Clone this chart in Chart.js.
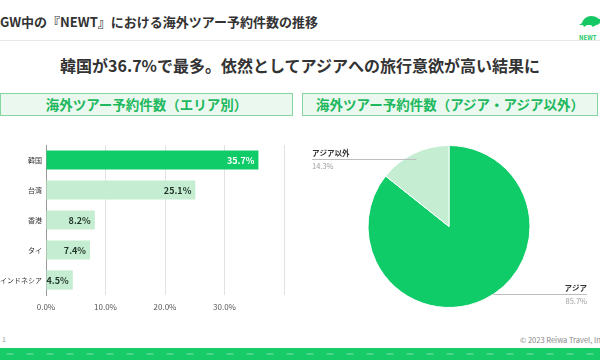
<!DOCTYPE html>
<html>
<head>
<meta charset="utf-8">
<script src="https://cdn.jsdelivr.net/npm/chart.js@4"></script>
<style>
  body { margin: 0; width: 600px; height: 360px; position: relative; overflow: hidden; background: #fff;
         font-family: "Noto Sans CJK JP", "Noto Sans", sans-serif; }
  .abs { position: absolute; }
  #title { left: 0; top: 13px; font-size: 13px; font-weight: bold; color: #333; line-height: 18px; white-space: nowrap; }
  #rule { left: 0; top: 40px; width: 600px; height: 1px; background: #e8e8e8; }
  #lead { left: 0; top: 55px; width: 600px; text-align: center; font-size: 16px; font-weight: bold; color: #333; line-height: 20px; }
  .head { top: 93px; height: 23px; box-sizing: border-box; background: #ebf8ef; border: 1px solid #86d6a1;
          color: #1eb85e; font-size: 13.5px; font-weight: bold; line-height: 21px; text-align: center; white-space: nowrap; }
  #headL { left: 0; width: 293px; }
  #headR { left: 302px; width: 296px; }
  #barBox { left: 0; top: 120px; }
  #pieBox { left: 301px; top: 120px; }
  #logo { left: 579px; top: 9px; width: 30px; }
  #logo span { display: block; font-size: 6px; font-weight: bold; color: #16c864; line-height: 7px; margin-top: 1px; }
  #page { left: 2px; top: 334px; font-size: 7px; color: #999; }
  #copy { left: 520px; top: 334px; font-size: 7.5px; color: #888; white-space: nowrap; }
  #band { left: 0; top: 348px; width: 600px; height: 12px; background-color: #17cc68;
          background-image: radial-gradient(ellipse 4px 1.5px at 10px 6px, rgba(255,255,255,0.22) 85%, transparent 100%);
          background-size: 20px 12px; }
</style>
</head>
<body>
<div id="title" class="abs">GW中の『NEWT』における海外ツアー予約件数の推移</div>
<div id="logo" class="abs">
  <svg width="22" height="13" viewBox="0 0 22 13"><path d="M0 10 L3 8 C4 4 8 1 12 1 C15 1 18 2 20 4 L22 4 L21 7 C21 9 19 10 17 10 L14 12 L12 10 L8 10 L5 12 L4 10 Z" fill="#16c864"/></svg>
  <span>NEWT</span>
</div>
<div id="rule" class="abs"></div>
<div id="lead" class="abs">韓国が36.7%で最多。依然としてアジアへの旅行意欲が高い結果に</div>
<div id="headL" class="abs head">海外ツアー予約件数（エリア別）</div>
<div id="headR" class="abs head">海外ツアー予約件数（アジア・アジア以外）</div>
<div id="barBox" class="abs"><canvas id="areaChart" width="300" height="200"></canvas></div>
<div id="pieBox" class="abs"><canvas id="regionChart" width="296" height="213"></canvas></div>
<div id="page" class="abs">1</div>
<div id="copy" class="abs">© 2023 Reiwa Travel, Inc.</div>
<div id="band" class="abs"></div>

<script>
const areaLabels = ['韓国', '台湾', '香港', 'タイ', 'インドネシア'];
const areaShares = [35.7, 25.1, 8.2, 7.4, 4.5];
const regionLabels = ['アジア', 'アジア以外'];
const regionShares = [85.7, 14.3];
const xTickMax = 40;

const jp = '"Noto Sans CJK JP", sans-serif';
const green = '#0fcb68';
const paleGreen = '#c5edd2';

// value text at the end of each bar
const barValueLabels = {
    id: 'barValueLabels',
    afterDatasetsDraw(chart) {
        const ctx = chart.ctx;
        const meta = chart.getDatasetMeta(0);
        ctx.save();
        ctx.font = 'bold 9px ' + jp;
        ctx.textAlign = 'right';
        ctx.textBaseline = 'middle';
        meta.data.forEach((bar, i) => {
            ctx.fillStyle = i === 0 ? '#ffffff' : '#1f3327';
            ctx.fillText(areaShares[i].toFixed(1) + '%', bar.x - 4, bar.y + 0.5);
        });
        ctx.restore();
    }
};

// leader lines with name + percent for the pie
const pieLeaderLabels = {
    id: 'pieLeaderLabels',
    afterDatasetsDraw(chart) {
        const ctx = chart.ctx;
        const meta = chart.getDatasetMeta(0);
        ctx.save();
        meta.data.forEach((arc, i) => {
            const mid = (arc.startAngle + arc.endAngle) / 2;
            const R = arc.outerRadius;
            let px = arc.x + Math.cos(mid) * R * 0.93;
            const py = arc.y + Math.sin(mid) * R * 0.93;
            const right = Math.cos(mid) > 0;
            if (arc.circumference > Math.PI) {
                const dx = Math.sqrt(Math.max(R * R - (py - arc.y) ** 2, 0));
                px = right ? arc.x + dx : arc.x - dx;
            }
            const ex = right ? chart.width - 10 : 11;
            ctx.strokeStyle = '#bdbdbd';
            ctx.lineWidth = 1;
            ctx.beginPath();
            ctx.moveTo(px, Math.round(py) + 0.5);
            ctx.lineTo(ex, Math.round(py) + 0.5);
            ctx.stroke();
            ctx.textAlign = right ? 'right' : 'left';
            ctx.textBaseline = 'alphabetic';
            ctx.font = 'bold 7.5px ' + jp;
            ctx.fillStyle = '#333';
            ctx.fillText(regionLabels[i], ex, Math.round(py) - 3);
            ctx.textBaseline = 'top';
            ctx.font = '7.5px ' + jp;
            ctx.fillStyle = '#a0a0a0';
            ctx.fillText(regionShares[i].toFixed(1) + '%', ex, Math.round(py) + 3);
        });
        ctx.restore();
    }
};

new Chart(document.getElementById('areaChart').getContext('2d'), {
    type: 'bar',
    data: {
        labels: areaLabels,
        datasets: [{
            data: areaShares,
            backgroundColor: areaShares.map((v, i) => i === 0 ? green : paleGreen),
            borderWidth: 0,
            barPercentage: 0.64,
            categoryPercentage: 1
        }]
    },
    options: {
        indexAxis: 'y',
        responsive: false,
        devicePixelRatio: 1,
        animation: false,
        layout: {padding: {top: 25, right: 16, left: 0, bottom: 0}},
        plugins: {legend: {display: false}, tooltip: {enabled: false}},
        scales: {
            x: {
                min: 0,
                max: xTickMax,
                ticks: {
                    stepSize: 10,
                    padding: 7,
                    color: '#555',
                    font: {size: 8, family: jp},
                    callback: v => v < xTickMax ? v.toFixed(1) + '%' : ''
                },
                grid: {color: '#e2e2e2', drawTicks: false},
                border: {display: false},
                afterFit: s => { s.height = 25; }
            },
            y: {
                ticks: {color: '#333', padding: 4, font: {size: 7, family: jp}},
                grid: {display: false, drawTicks: false},
                border: {display: true, color: '#9a9a9a'},
                afterFit: s => { s.width = 46; }
            }
        }
    },
    plugins: [barValueLabels]
});

new Chart(document.getElementById('regionChart').getContext('2d'), {
    type: 'pie',
    data: {
        labels: regionLabels,
        datasets: [{
            data: regionShares,
            backgroundColor: [green, paleGreen],
            borderColor: '#ffffff',
            borderWidth: 1
        }]
    },
    options: {
        responsive: false,
        devicePixelRatio: 1,
        animation: false,
        layout: {padding: 25},
        plugins: {legend: {display: false}, tooltip: {enabled: false}}
    },
    plugins: [pieLeaderLabels]
});
</script>
</body>
</html>
